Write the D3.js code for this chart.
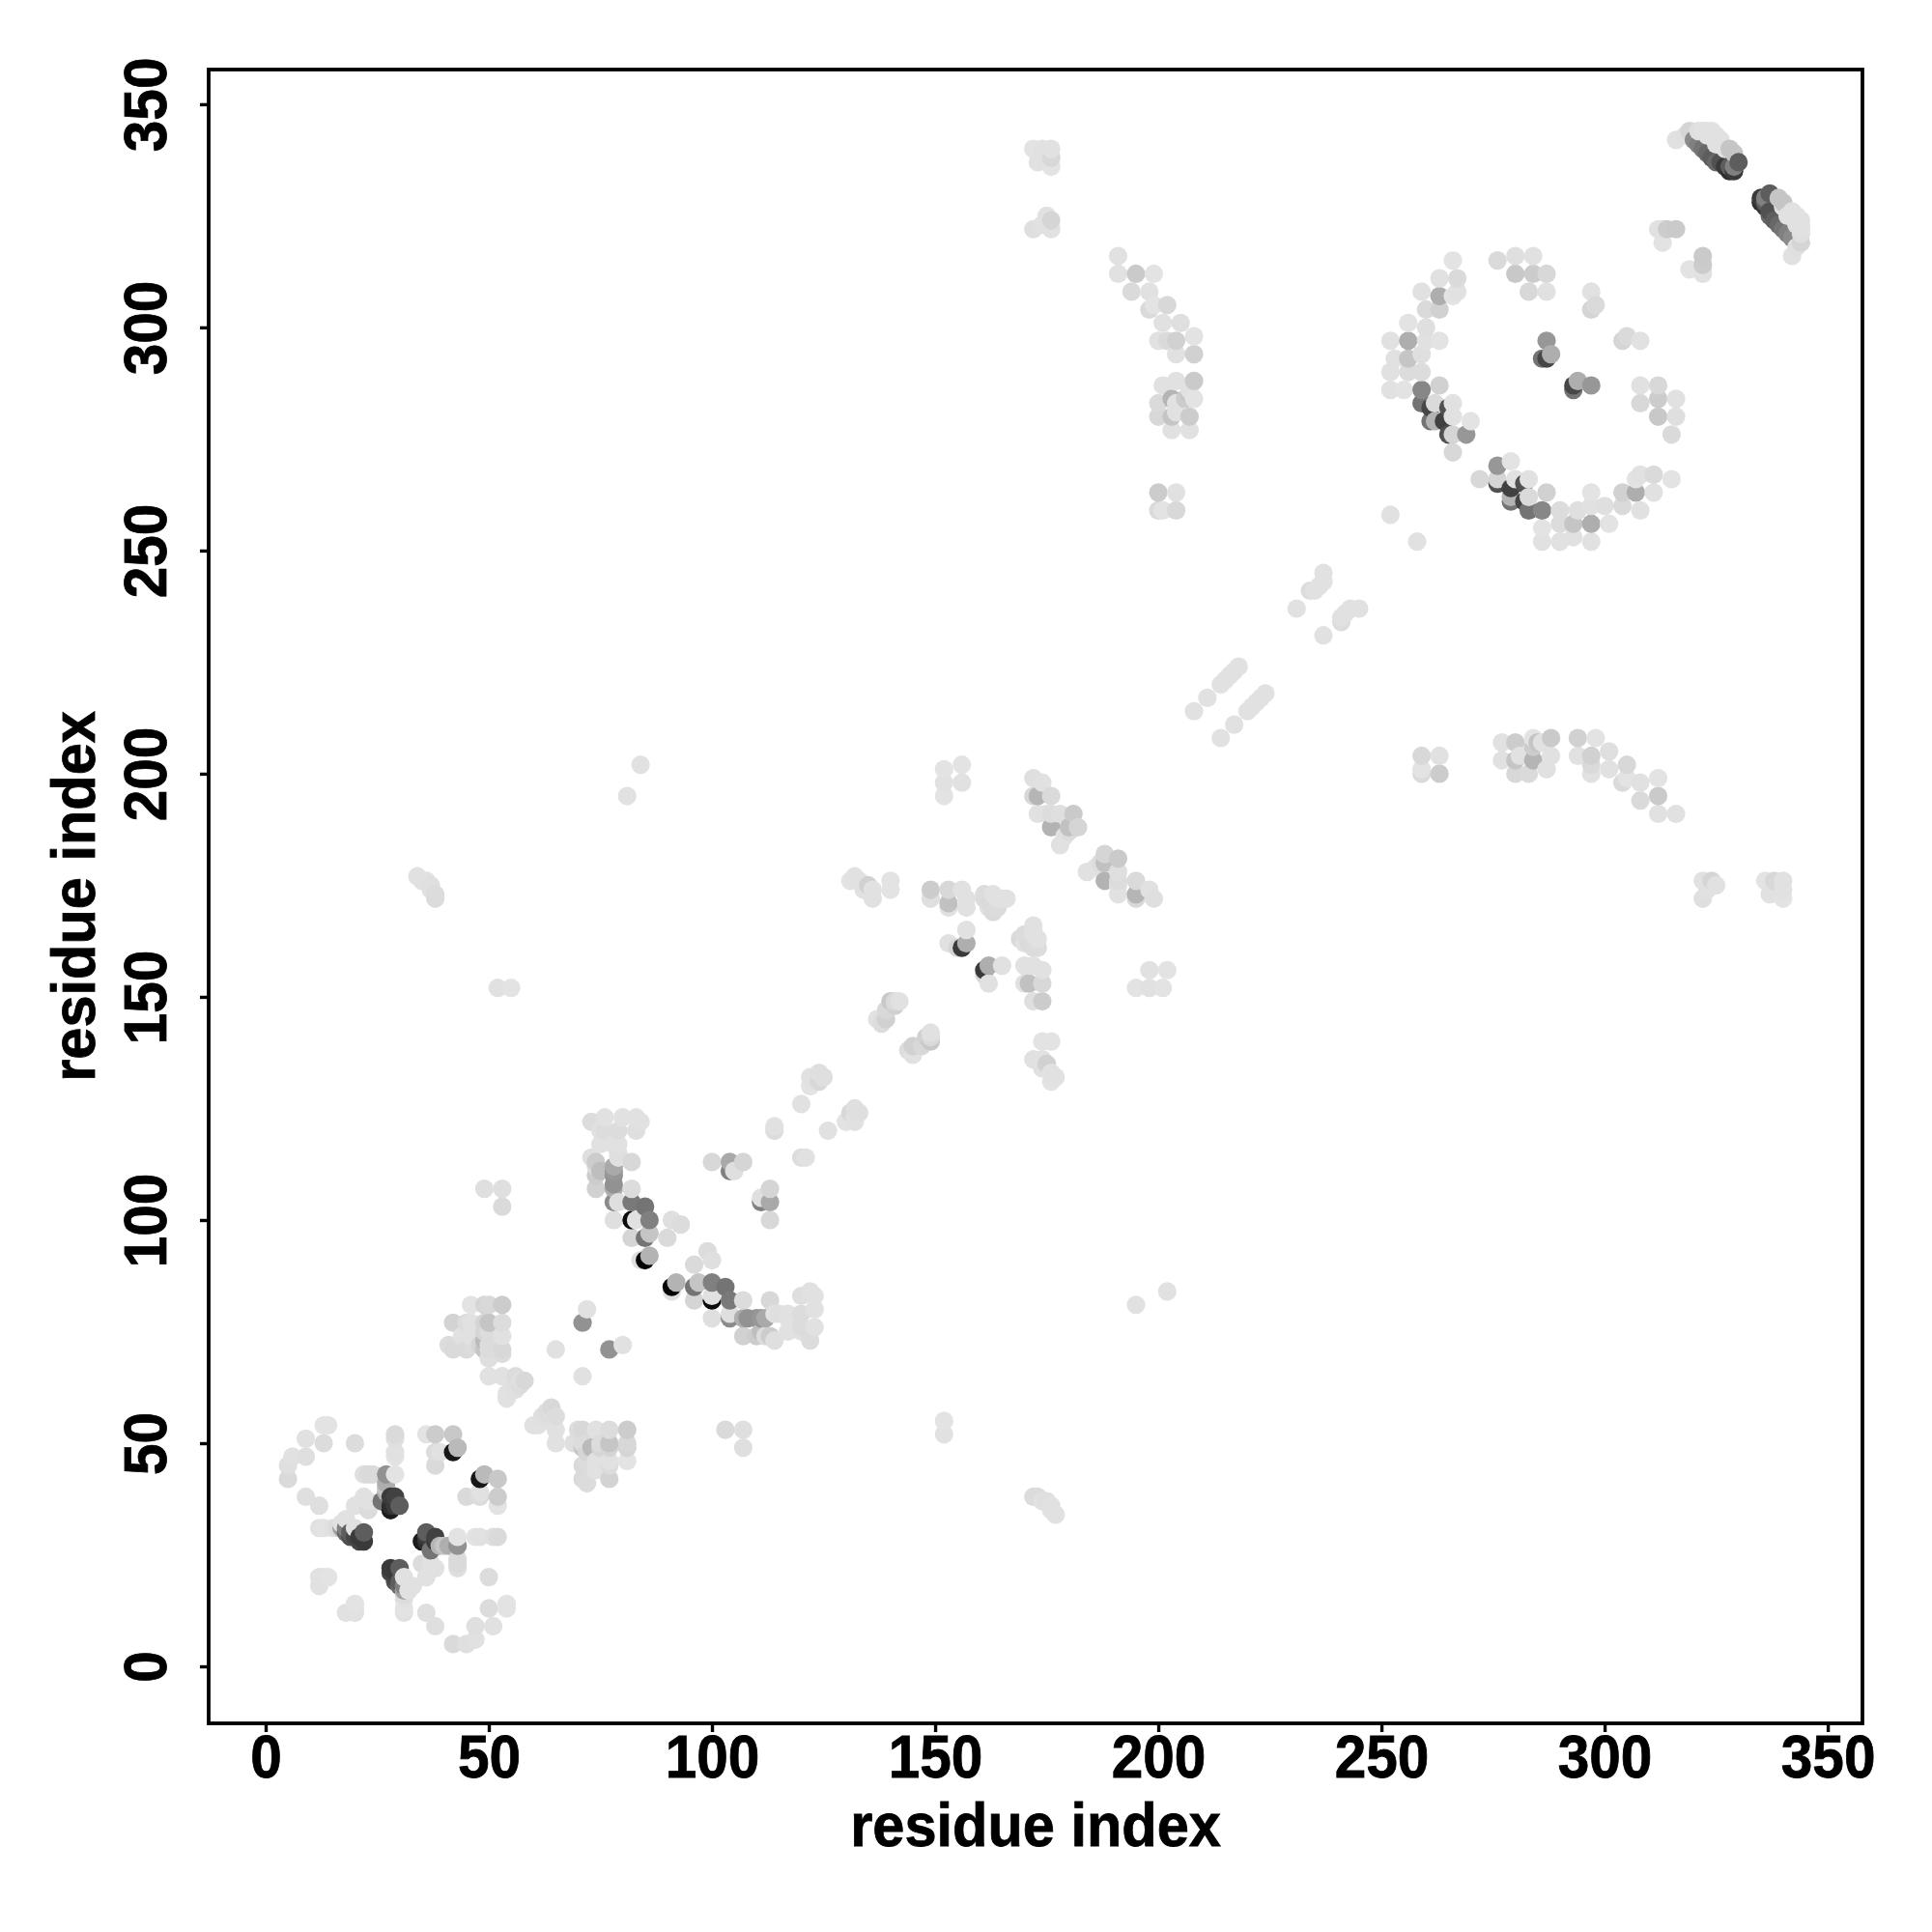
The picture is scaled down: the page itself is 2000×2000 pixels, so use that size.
<!DOCTYPE html>
<html><head><meta charset="utf-8">
<script src="https://cdn.jsdelivr.net/npm/d3@7"></script>
<style>html,body{margin:0;background:#fff}svg{display:block}text{font-family:"Liberation Sans",Arial,sans-serif;font-weight:700;fill:#000;stroke:#000;stroke-width:0.8px}</style>
</head><body><div id="c"></div>
<script>
// contacts: [residue i, residue j, score 0-100]; the map is symmetric, so each pair is held once (i<j)
const contactsFirstDomain=[[5,42,6],[5,45,4],[6,47,3],[9,47,4],[9,51,3],[9,38,4],[12,36,4],[13,50,5],[13,54,2],[14,54,2],[12,31,3],[13,31,2],[15,31,3],[16,31,5],[17,32,3],[17,31,30],[18,31,45],[18,30,55],[19,30,60],[19,29,65],[20,29,70],[21,28,70],[21,29,75],[22,28,75],[22,30,60],[12,18,3],[12,20,3],[13,20,3],[14,20,2],[20,50,5],[29,52,6],[29,51,4],[29,48,3],[29,47,2],[22,43,4],[23,43,6],[24,43,6],[27,43,37],[29,43,2],[27,41,25],[27,40,15],[22,38,3],[20,36,3],[23,35,5],[23,37,3],[26,37,50],[28,38,75],[29,38,72],[30,36,60],[28,35,88],[28,36,80],[29,36,75],[36,52,2],[38,52,12],[42,52,14],[38,48,5],[39,48,3],[38,45,6],[42,48,90],[43,49,20],[18,33,3],[27,39,22],[20,31,3]];
const contactsSecondBlock=[[46,81,2],[49,81,8],[50,81,7],[53,81,12],[42,77,9],[45,77,5],[46,77,3],[49,77,8],[50,77,15],[53,77,5],[44,74,3],[46,74,3],[49,75,8],[50,75,5],[53,74,3],[41,72,5],[42,71,6],[45,71,6],[46,72,5],[48,72,8],[49,71,15],[50,72,5],[50,71,5],[53,71,7],[53,70,5],[50,69,4],[49,73,20],[50,65,3],[53,65,3],[54,60,3],[54,61,3],[55,62,3],[56,62,4],[56,65,5],[57,63,5],[57,64,4],[58,64,7],[65,71,3],[71,77,37],[72,80,3]];
const contactsThirdBlock=[[73,122,5],[76,123,3],[80,123,3],[83,123,3],[84,122,3],[83,120,4],[76,120,5],[79,120,5],[75,117,3],[79,117,3],[79,115,4],[82,113,7],[73,114,4],[78,112,27],[74,113,12],[75,111,18],[78,110,37],[74,110,12],[74,107,10],[78,108,37],[82,107,5],[78,104,40],[79,104,4],[82,104,48],[85,103,50],[86,100,45],[82,100,95],[83,100,3],[78,100,4],[82,96,8],[85,96,50],[86,97,15],[90,96,6],[91,100,4],[93,99,5],[84,91,4],[85,91,98],[86,92,23],[78,111,35],[78,107,25],[74,112,5],[79,114,3],[78,117,3],[75,120,3],[100,113,7],[104,113,27],[107,113,8],[104,111,45],[105,111,4],[49,107,4],[53,107,4],[53,103,6],[114,120,5],[114,121,3],[120,126,3],[122,130,2],[122,132,3],[123,132,3],[124,131,7],[124,133,4],[125,132,4]];
const contactsFourthBlock=[[131,176,2],[132,177,3],[133,176,3],[134,174,3],[135,175,10],[136,174,3],[136,172,3],[140,176,2],[140,174,2],[137,145,3],[138,144,5],[139,145,10],[139,147,7],[140,149,14],[141,148,10],[142,149,3],[141,149,6],[149,172,4],[149,174,12],[153,170,3],[153,171,17],[153,174,7],[156,174,3],[157,172,3],[157,170,3],[161,172,5],[162,170,3],[163,173,3],[164,170,5],[166,172,3],[157,165,3],[157,162,25],[156,161,75],[155,161,8],[153,162,3],[163,169,6],[162,171,6],[164,172,3],[161,173,5],[165,172,3],[164,171,5],[172,199,4],[174,198,3],[172,195,7],[173,195,22],[176,195,6],[173,191,3],[175,191,3],[176,188,23],[178,191,4],[181,191,13],[180,188,17],[182,188,8],[178,184,3],[179,186,3],[180,187,5],[176,191,5],[152,201,2],[156,202,2],[156,198,3],[152,198,3],[152,195,2],[34,177,3],[35,176,3],[36,176,3],[37,175,4],[37,174,3],[38,173,5],[38,172,5],[52,152,3],[55,152,2],[81,195,3],[84,202,3]];
const contactsFifthBlock=[[172,340,2],[174,340,3],[176,340,3],[173,337,3],[176,336,2],[176,338,7],[175,325,3],[176,324,8],[172,322,4],[174,323,3],[176,322,3],[191,316,3],[191,312,3],[195,312,13],[199,312,2],[194,308,6],[198,308,3],[198,304,6],[199,305,2],[202,305,7],[201,301,3],[205,301,4],[200,297,3],[202,297,6],[204,297,10],[208,298,2],[204,294,3],[208,294,10],[201,287,3],[204,288,3],[208,288,13],[207,286,3],[203,284,22],[204,283,3],[206,284,12],[208,284,2],[207,285,15],[200,283,6],[200,280,7],[203,280,15],[204,281,3],[207,280,12],[203,277,3],[207,277,3],[200,263,12],[204,263,3],[200,259,6],[201,259,2],[204,259,7]];
const contactsHelixPairs=[[208,214,3],[211,217,3],[214,220,3],[215,221,3],[216,222,3],[217,223,3],[218,224,3],[231,237,3],[234,241,5],[235,241,3],[236,242,3],[237,243,3],[237,245,3],[252,258,3]];
const contactsLastDomain=[[266,315,2],[263,311,3],[267,311,6],[266,307,2],[267,308,3],[263,307,25],[259,308,3],[260,304,6],[263,304,10],[256,301,2],[260,300,4],[256,297,25],[252,297,3],[263,297,2],[260,297,3],[256,293,15],[259,294,4],[253,293,3],[252,290,3],[256,290,5],[259,290,5],[252,286,3],[255,286,2],[259,286,42],[259,283,50],[263,287,10],[262,283,6],[261,282,70],[266,283,3],[265,282,65],[262,279,23],[261,279,50],[266,280,3],[270,279,2],[269,276,35],[264,279,72],[265,276,65],[266,276,8],[266,272,7],[276,315,6],[280,316,4],[284,316,3],[280,312,14],[284,312,12],[287,312,7],[283,308,7],[287,308,3],[297,308,3],[298,305,6],[297,304,8],[287,297,35],[288,294,25],[287,293,70],[286,293,50],[312,322,3],[313,319,2],[316,322,13],[313,322,3],[314,322,12],[316,342,3],[318,343,4],[319,344,8],[320,342,40],[321,344,4],[321,341,45],[322,344,3],[322,340,50],[323,339,55],[323,344,3],[323,343,3],[324,338,60],[324,344,3],[325,343,3],[325,337,55],[325,341,3],[326,337,65],[326,342,3],[327,336,75],[327,340,3],[328,335,80],[328,336,60],[328,340,15],[329,335,75],[329,336,45],[329,339,15],[330,337,60]];
const tickLabels=[0,50,100,150,200,250,300,350];
const axisTitle="residue index";

const W=2000,H=2000,L=216,R=1928,T=72,B=1784;
const domainX=[-12.77,357.77];
const x=d3.scaleLinear().domain(domainX).range([L,R]);
const y=d3.scaleLinear().domain(domainX).range([B,T]);
const grey=d3.scaleLinear().domain([0,100]).range(["#e8e8e8","#000000"]);

const pairs=[...contactsFirstDomain,...contactsSecondBlock,...contactsThirdBlock,...contactsFourthBlock,...contactsFifthBlock,...contactsHelixPairs,...contactsLastDomain];
const points=pairs.flatMap(([i,j,s])=>[{x:i,y:j,s},{x:j,y:i,s}]).sort((a,b)=>a.x-b.x||a.y-b.y);

const svg=d3.select("#c").append("svg").attr("width",W).attr("height",H).attr("viewBox",`0 0 ${W} ${H}`);
svg.append("rect").attr("width",W).attr("height",H).attr("fill","#fff");

svg.append("g").selectAll("circle").data(points).join("circle")
  .attr("cx",d=>x(d.x)).attr("cy",d=>y(d.y)).attr("r",9.6).attr("fill",d=>grey(d.s));

const fs=63, sx=0.93, st=0.945;
const gx=svg.append("g").attr("transform",`translate(0,${B})`).call(d3.axisBottom(x).tickValues(tickLabels).tickSize(9).tickFormat(d3.format("d")));
const gy=svg.append("g").attr("transform",`translate(${L},0)`).call(d3.axisLeft(y).tickValues(tickLabels).tickSize(9).tickFormat(d3.format("d")));
[gx,gy].forEach(g=>{g.select(".domain").remove();g.selectAll("line").attr("stroke","#000").attr("stroke-width",3.4);});
gx.selectAll("text").attr("y",null).attr("dy",null).attr("text-anchor","middle").style("font-size",fs+"px")
  .attr("transform",`translate(0,56) scale(${sx},1)`);
gy.selectAll("text").attr("x",null).attr("dy",null).attr("text-anchor","middle").style("font-size",fs+"px")
  .attr("transform",`translate(-44,0) rotate(-90) scale(${sx},1)`);

svg.append("rect").attr("x",L).attr("y",T).attr("width",R-L).attr("height",B-T).attr("fill","none").attr("stroke","#000").attr("stroke-width",3.8);

svg.append("text").attr("text-anchor","middle").style("font-size",fs+"px")
  .attr("transform",`translate(${(L+R)/2},1911) scale(${st},1)`).text(axisTitle);
svg.append("text").attr("text-anchor","middle").style("font-size",fs+"px")
  .attr("transform",`translate(98,${(T+B)/2}) rotate(-90) scale(${st},1)`).text(axisTitle);
</script></body></html>
